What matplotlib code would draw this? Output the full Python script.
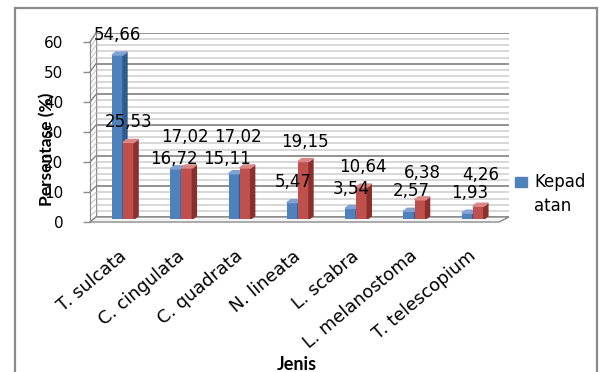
import matplotlib
matplotlib.use("Agg")
import matplotlib.pyplot as plt
from matplotlib.patches import Polygon, Rectangle, ConnectionPatch
import numpy as np

# ---- data -------------------------------------------------------------
species = ["T. sulcata", "C. cingulata", "C. quadrata", "N. lineata",
           "L. scabra", "L. melanostoma", "T. telescopium"]
kepadatan = [54.66, 16.72, 15.11, 5.47, 3.54, 2.57, 1.93]
series_two = [25.53, 17.02, 17.02, 19.15, 10.64, 6.38, 4.26]
value_ticks = [0, 10, 20, 30, 40, 50, 60]
legend_label = "Kepad\natan"
y_title = "Persentase (%)"
x_title = "Jenis"

# ---- label placement (pixels above the bar top / sideways nudge) -------
lift_blue = [20, 10, 15, 21, 19, 20, 20]
lift_red = [20, 31, 31, 20, 20, 27, 31]
nudge_x = [0, -2, -7, 1, 1, 2, 2]

# ---- styles -----------------------------------------------------------
BLUE, BLUE_SIDE, BLUE_TOP = "#4F81BD", "#2F5B8E", "#7FA3D4"
RED, RED_SIDE, RED_TOP = "#C0504D", "#8A2F2C", "#D98885"
MAJOR, MINOR = "#8a8a8a", "#cdcdcd"
NUM_FONT = "DejaVu Sans"
TITLE_FONT = "Lato"

W, H = 599, 372
fig = plt.figure(figsize=(W / 100, H / 100), dpi=100)
fig.patch.set_facecolor("white")


def box(x0, x1, ytop, ybot):
    """Pixel rectangle (origin top-left) -> figure fraction [l, b, w, h]."""
    return [x0 / W, 1 - ybot / H, (x1 - x0) / W, (ybot - ytop) / H]


# back wall, front value axis, and the plane the columns stand in
back = fig.add_axes(box(96, 509, 33, 217), zorder=0)
front = fig.add_axes(box(90, 499, 42, 222), zorder=1)
ax = fig.add_axes(box(93.85, 501.95, 39, 219), zorder=2)

for a in (back, front, ax):
    a.set_ylim(0, 60)
back.set_xlim(0, 1)
front.set_xlim(0, 1)
ax.set_xlim(-0.5, len(species) - 0.5)

# back wall with major / minor gridlines
back.patch.set_facecolor("white")
for s in back.spines.values():
    s.set_visible(False)
back.set_xticks([])
back.set_yticks([])
for v in range(0, 61, 2):
    major = v % 10 == 0
    back.axhline(v, color=MAJOR if major else MINOR, lw=1.3 if major else 1.1,
                 zorder=1)
back.axvline(0, color=MAJOR, lw=1.0)

# side wall: oblique lines joining the value axis to the back wall
for v in range(0, 61, 2):
    major = v % 10 == 0
    cp = ConnectionPatch(xyA=(0, v), coordsA=front.transData,
                         xyB=(0, v), coordsB=back.transData,
                         color=MAJOR if major else MINOR,
                         lw=1.1 if major else 0.9, zorder=1)
    fig.add_artist(cp)

# floor
fig.canvas.draw()
corners = [front.transData.transform((0, 0)), front.transData.transform((1, 0)),
           back.transData.transform((1, 0)), back.transData.transform((0, 0))]
fig.add_artist(Polygon(corners, closed=True, transform=None,
                       facecolor="#f4f4f4", edgecolor=MAJOR, lw=1.0, zorder=1))

# value axis
front.patch.set_visible(False)
for name, s in front.spines.items():
    s.set_visible(name == "left")
front.spines["left"].set_color(MAJOR)
front.set_xticks([])
front.set_yticks(value_ticks)
front.set_yticklabels([str(t) for t in value_ticks], fontsize=11,
                      fontfamily=NUM_FONT)
front.tick_params(axis="y", length=5, width=1, color=MAJOR, pad=14)

# columns
ax.patch.set_visible(False)
for s in ax.spines.values():
    s.set_visible(False)
ax.set_xticks([])
ax.set_yticks([])

x = np.arange(len(species))
bw = 0.19
p0 = ax.transData.transform((0, 0))
p1 = ax.transData.transform((1, 1))
ddx = 4 / (p1[0] - p0[0])
ddy = 3 / (p1[1] - p0[1])


def column(xc, v, face, side, top):
    ax.bar(xc, v, width=bw, color=face, zorder=3)
    l, r = xc - bw / 2, xc + bw / 2
    ax.add_patch(Polygon([(r, 0), (r, v), (r + ddx, v + ddy), (r + ddx, ddy)],
                         closed=True, color=side, zorder=3))
    ax.add_patch(Polygon([(l, v), (r, v), (r + ddx, v + ddy), (l + ddx, v + ddy)],
                         closed=True, color=top, zorder=3))


for i in x:
    column(i - bw / 2, kepadatan[i], BLUE, BLUE_SIDE, BLUE_TOP)
    column(i + bw / 2, series_two[i], RED, RED_SIDE, RED_TOP)


def fmt(v):
    return f"{v:.2f}".replace(".", ",")


for i in x:
    ax.annotate(fmt(kepadatan[i]), xy=(i - bw / 2, kepadatan[i]),
                xytext=(nudge_x[i], lift_blue[i]), textcoords="offset pixels",
                ha="center", va="center", fontsize=12, fontfamily=NUM_FONT,
                zorder=5, annotation_clip=False)
    ax.annotate(fmt(series_two[i]), xy=(i + bw / 2, series_two[i]),
                xytext=(nudge_x[i], lift_red[i]), textcoords="offset pixels",
                ha="center", va="center", fontsize=12, fontfamily=NUM_FONT,
                zorder=5, annotation_clip=False)

# category labels
for i, name in enumerate(species):
    ax.annotate(name, xy=(i, 0), xytext=(-5, -28), textcoords="offset pixels",
                rotation=40, rotation_mode="anchor", ha="right", va="top",
                fontsize=12.8, fontfamily=NUM_FONT, annotation_clip=False)

# axis titles
fig.text(47 / W, 1 - 149 / H, y_title, rotation=90, ha="center", va="center",
         fontsize=12.5, fontweight="bold", fontfamily=TITLE_FONT)
fig.text(297 / W, 1 - 364 / H, x_title, ha="center", va="center",
         fontsize=13, fontweight="bold", fontfamily=TITLE_FONT)

# legend
fig.add_artist(Rectangle((515 / W, 1 - 187 / H), 12 / W, 10 / H,
                         transform=fig.transFigure, color=BLUE))
fig.text(534 / W, 1 - 173 / H, legend_label, ha="left", va="top",
         fontsize=12, fontfamily=NUM_FONT, linespacing=1.45)

# chart frame
fig.add_artist(Rectangle((15 / W, -0.05), (597 - 15) / W, 1 - 8 / H + 0.05,
                         transform=fig.transFigure, fill=False,
                         edgecolor="#8a8a8a", lw=1.6, clip_on=False))

fig.savefig("out.png", dpi=100)
